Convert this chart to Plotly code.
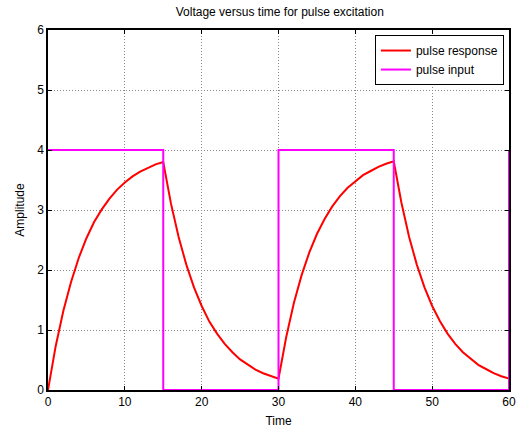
import plotly.graph_objects as go

time_pts = list(range(0, 61))
response = [0, 0.73, 1.32, 1.80, 2.20, 2.53, 2.80, 3.01, 3.19, 3.34, 3.46, 3.56, 3.64, 3.70, 3.76, 3.80,
            3.11, 2.55, 2.09, 1.71, 1.40, 1.14, 0.94, 0.77, 0.63, 0.51, 0.42, 0.34, 0.28, 0.23, 0.19,
            0.88, 1.45, 1.91, 2.29, 2.60, 2.85, 3.06, 3.23, 3.37, 3.48, 3.58, 3.65, 3.72, 3.77, 3.81,
            3.12, 2.55, 2.09, 1.71, 1.40, 1.15, 0.94, 0.77, 0.63, 0.52, 0.42, 0.35, 0.28, 0.23, 0.19]
input_t = [0, 15, 15, 30, 30, 45, 45, 60, 60]
input_v = [4, 4, 0, 0, 4, 4, 0, 0, 4]
x_ticks = [0, 10, 20, 30, 40, 50, 60]
y_ticks = [0, 1, 2, 3, 4, 5, 6]

fig = go.Figure()
fig.add_trace(go.Scatter(x=time_pts, y=response, mode="lines", name="pulse response",
                         line=dict(color="#ff0000", width=2)))
fig.add_trace(go.Scatter(x=input_t, y=input_v, mode="lines", name="pulse input",
                         line=dict(color="#ff00ff", width=2)))

axis_common = dict(showline=True, linecolor="black", linewidth=1.5, mirror="ticks",
                   ticks="inside", ticklen=4, tickcolor="black", showgrid=True,
                   gridcolor="#888888", griddash="1px,2px", gridwidth=1, zeroline=False,
                   automargin=False,
                   tickfont=dict(family="Liberation Sans, Arial", size=12, color="black"))
fig.update_xaxes(range=[0, 60], tickvals=x_ticks, title=dict(text="Time", standoff=8,
                 font=dict(family="Liberation Sans, Arial", size=12, color="black")), **axis_common)
fig.update_yaxes(range=[0, 6], tickvals=y_ticks, title=dict(text="Amplitude", standoff=10,
                 font=dict(family="Liberation Sans, Arial", size=12, color="black")), **axis_common)

fig.update_layout(
    width=523, height=430,
    margin=dict(l=48, r=14, t=30, b=40),
    paper_bgcolor="white", plot_bgcolor="white",
    title=dict(text="Voltage versus time for pulse excitation", x=0.535, xanchor="center",
               y=0.972, yanchor="middle",
               font=dict(family="Liberation Sans, Arial", size=12, color="black")),
    legend=dict(x=0.989, y=0.986, xanchor="right", yanchor="top", bordercolor="black",
                borderwidth=1, bgcolor="white", tracegroupgap=0,
                font=dict(family="Liberation Sans, Arial", size=12, color="black")),
    showlegend=True,
)
fig.write_html("out.html")
